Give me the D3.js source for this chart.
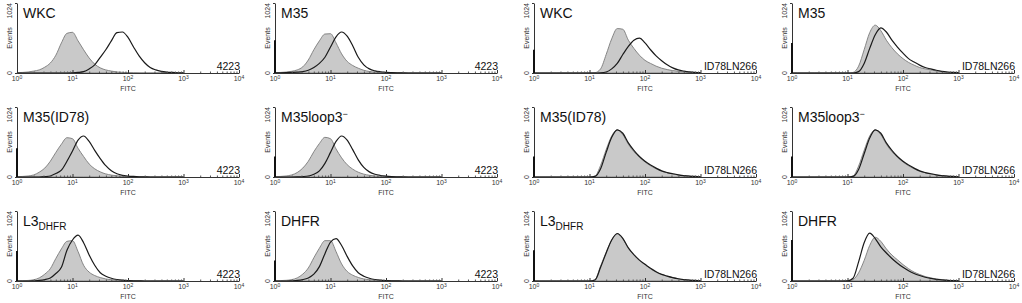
<!DOCTYPE html>
<html>
<head>
<meta charset="utf-8">
<script src="https://cdn.jsdelivr.net/npm/d3@7"></script>
<style>
  body { margin: 0; background: #fff; }
  svg { display: block; font-family: "Liberation Sans", Arial, sans-serif; }
</style>
</head>
<body>
<svg id="chart" width="1022" height="303"></svg>
<script>
// panel order: row by row, left to right
const titleMain = ["WKC", "M35", "WKC", "M35",
                   "M35(ID78)", "M35loop3", "M35(ID78)", "M35loop3",
                   "L3", "DHFR", "L3", "DHFR"];
const titleSup = ["", "", "", "", "", "\u2212", "", "\u2212", "", "", "", ""];
const titleSub = ["", "", "", "", "", "", "", "", "DHFR", "", "DHFR", ""];
const cellLine = ["4223", "4223", "ID78LN266", "ID78LN266",
                  "4223", "4223", "ID78LN266", "ID78LN266",
                  "4223", "4223", "ID78LN266", "ID78LN266"];

// FITC channel positions, log10 units (0.0 .. 3.0)
const logFITC = [0, 0.1, 0.2, 0.3, 0.4, 0.5, 0.6, 0.7, 0.8, 0.9, 1.0,
                 1.1, 1.2, 1.3, 1.4, 1.5, 1.6, 1.7, 1.8, 1.9, 2.0,
                 2.1, 2.2, 2.3, 2.4, 2.5, 2.6, 2.7, 2.8, 2.9, 3.0];
const decadeTicks = [0, 1, 2, 3, 4];
const eventTicks = [0, 1024];

// events per channel, control (grey filled) histograms
const controlCounts = [
  [5, 8, 15, 28, 45, 85, 146, 260, 440, 580, 595, 470, 340, 220, 130, 75, 45, 28, 15, 9, 5, 3, 1, 0, 0, 0, 0, 0, 0, 0, 0],
  [5, 8, 14, 25, 45, 90, 190, 340, 470, 570, 575, 440, 280, 170, 110, 70, 40, 22, 12, 7, 4, 2, 0, 0, 0, 0, 0, 0, 0, 0, 0],
  [0, 0, 0, 0, 0, 0, 0, 0, 0, 0, 0, 5, 60, 270, 500, 650, 640, 480, 360, 260, 185, 140, 100, 70, 50, 35, 25, 16, 10, 6, 3],
  [0, 0, 0, 0, 0, 0, 0, 0, 0, 0, 0, 8, 100, 340, 590, 700, 620, 480, 370, 280, 210, 155, 115, 80, 60, 45, 30, 20, 12, 8, 4],
  [5, 8, 15, 30, 70, 130, 230, 360, 480, 575, 560, 420, 300, 190, 120, 75, 45, 28, 18, 10, 6, 3, 1, 0, 0, 0, 0, 0, 0, 0, 0],
  [5, 8, 15, 30, 65, 130, 230, 370, 490, 580, 560, 410, 280, 180, 115, 70, 42, 25, 15, 9, 5, 2, 0, 0, 0, 0, 0, 0, 0, 0, 0],
  [0, 0, 0, 0, 0, 0, 0, 0, 0, 0, 0, 15, 170, 400, 600, 690, 620, 480, 370, 290, 220, 165, 120, 85, 62, 45, 30, 20, 12, 7, 4],
  [0, 0, 0, 0, 0, 0, 0, 0, 0, 0, 0, 15, 160, 390, 600, 690, 620, 480, 370, 290, 220, 165, 120, 85, 62, 45, 30, 20, 12, 7, 4],
  [3, 5, 8, 18, 45, 100, 180, 330, 470, 580, 590, 430, 230, 130, 80, 50, 30, 18, 10, 6, 3, 1, 0, 0, 0, 0, 0, 0, 0, 0, 0],
  [4, 6, 10, 20, 45, 100, 190, 340, 480, 590, 590, 430, 250, 140, 85, 52, 30, 18, 10, 6, 3, 1, 0, 0, 0, 0, 0, 0, 0, 0, 0],
  [0, 0, 0, 0, 0, 0, 0, 0, 0, 0, 0, 20, 220, 420, 600, 690, 620, 480, 380, 300, 240, 180, 130, 95, 70, 48, 32, 20, 12, 7, 4],
  [0, 0, 0, 0, 0, 0, 0, 0, 0, 0, 0, 20, 120, 300, 520, 640, 580, 470, 380, 310, 240, 180, 130, 95, 65, 45, 30, 20, 12, 7, 4]
];

// events per channel, stained (open black) histograms
const stainedCounts = [
  [0, 0, 0, 0, 0, 0, 0, 0, 0, 0, 2, 8, 20, 60, 120, 230, 340, 470, 590, 600, 520, 380, 250, 150, 80, 45, 25, 14, 8, 4, 2],
  [2, 3, 5, 8, 12, 20, 40, 80, 140, 230, 380, 530, 600, 540, 400, 230, 120, 60, 32, 18, 10, 6, 3, 1, 0, 0, 0, 0, 0, 0, 0],
  [0, 0, 0, 0, 0, 0, 0, 0, 0, 0, 0, 0, 3, 15, 60, 140, 270, 390, 480, 510, 440, 340, 250, 180, 120, 75, 45, 28, 16, 9, 5],
  [0, 0, 0, 0, 0, 0, 0, 0, 0, 0, 0, 0, 20, 140, 360, 560, 660, 600, 480, 380, 290, 210, 160, 115, 80, 60, 40, 25, 15, 9, 5],
  [0, 0, 0, 0, 0, 5, 15, 50, 100, 230, 380, 540, 600, 520, 390, 270, 165, 90, 48, 25, 14, 8, 4, 2, 0, 0, 0, 0, 0, 0, 0],
  [0, 0, 0, 0, 2, 6, 15, 40, 90, 200, 360, 520, 600, 540, 400, 250, 140, 75, 40, 22, 12, 6, 3, 1, 0, 0, 0, 0, 0, 0, 0],
  [0, 0, 0, 0, 0, 0, 0, 0, 0, 0, 0, 8, 120, 360, 580, 690, 640, 500, 390, 300, 230, 175, 130, 90, 65, 47, 32, 21, 13, 8, 4],
  [0, 0, 0, 0, 0, 0, 0, 0, 0, 0, 0, 8, 110, 340, 570, 690, 640, 500, 390, 300, 230, 175, 130, 90, 65, 47, 32, 21, 13, 8, 4],
  [0, 0, 0, 3, 8, 20, 45, 110, 200, 450, 600, 670, 560, 380, 230, 120, 70, 40, 22, 12, 7, 4, 2, 0, 0, 0, 0, 0, 0, 0, 0],
  [0, 0, 0, 3, 8, 20, 45, 100, 210, 400, 570, 620, 520, 360, 220, 120, 70, 40, 22, 12, 7, 4, 2, 0, 0, 0, 0, 0, 0, 0, 0],
  [0, 0, 0, 0, 0, 0, 0, 0, 0, 0, 0, 15, 200, 410, 600, 695, 625, 485, 385, 305, 245, 185, 135, 97, 72, 50, 33, 21, 13, 8, 4],
  [0, 0, 0, 0, 0, 0, 0, 0, 0, 0, 2, 40, 280, 560, 700, 620, 500, 410, 330, 260, 200, 150, 110, 80, 55, 38, 25, 16, 10, 6, 3]
];

// events piled in the first channel (drawn on the y axis)
const firstChannel = [0, 480, 340, 440, 420, 300, 300, 300, 440, 300, 450, 600];

const svg = d3.select("#chart");

const colLeft = [17, 275, 534, 792];
const rowBase = [73, 177, 281];
const plotW = 222;
const plotH = 70;

for (let i = 0; i < 12; i++) {
    const row = Math.floor(i / 4);
    const col = i % 4;
    const x0 = colLeft[col];
    const y0 = rowBase[row];

    const x = d3.scaleLog().domain([1, 1e4]).range([x0, x0 + plotW]);
    const y = d3.scaleLinear().domain([0, 1024]).range([y0, y0 - plotH]);

    const g = svg.append("g");

    const area = d3.area()
        .x(d => x(Math.pow(10, d[0])))
        .y0(y(0))
        .y1(d => y(d[1]))
        .curve(d3.curveMonotoneX);
    const line = d3.line()
        .x(d => x(Math.pow(10, d[0])))
        .y(d => y(d[1]))
        .curve(d3.curveMonotoneX);

    const ctrl = logFITC.map((l, k) => [l, controlCounts[i][k]]);
    const stain = logFITC.map((l, k) => [l, stainedCounts[i][k]]);

    g.append("path")
        .attr("d", area(ctrl))
        .attr("fill", "#c9c9c9")
        .attr("stroke", "#7a7a7a")
        .attr("stroke-width", 0.9);

    g.append("path")
        .attr("d", line(stain))
        .attr("fill", "none")
        .attr("stroke", "#1a1a1a")
        .attr("stroke-width", 1.2);

    // x axis with decade and minor ticks
    const minor = [];
    for (let d = 0; d < 4; d++) {
        for (let m = 2; m <= 9; m++) minor.push(m * Math.pow(10, d));
    }
    g.append("g")
        .attr("transform", `translate(0,${y0})`)
        .call(d3.axisBottom(x).tickValues(minor).tickSize(-1.5).tickFormat("").tickSizeOuter(0))
        .call(a => a.select(".domain").attr("stroke", "#333"))
        .call(a => a.selectAll(".tick line").attr("stroke", "#555"));
    g.append("g")
        .attr("transform", `translate(0,${y0})`)
        .call(d3.axisBottom(x).tickValues(decadeTicks.map(d => Math.pow(10, d))).tickSize(-3).tickFormat("").tickSizeOuter(0))
        .call(a => a.select(".domain").remove())
        .call(a => a.selectAll(".tick line").attr("stroke", "#333"));

    const lbl = g.selectAll(".dec")
        .data(decadeTicks)
        .enter()
        .append("text")
        .attr("x", d => x(Math.pow(10, d)))
        .attr("y", y0 + 8)
        .attr("text-anchor", "middle")
        .attr("font-size", 7)
        .attr("fill", "#333");
    lbl.append("tspan").text("10");
    lbl.append("tspan").attr("dy", -2.5).attr("font-size", 5).text(d => d);

    g.append("text")
        .attr("x", x0 + plotW / 2)
        .attr("y", y0 + 18)
        .attr("text-anchor", "middle")
        .attr("font-size", 7)
        .attr("fill", "#333")
        .text("FITC");

    // y axis
    g.append("g")
        .attr("transform", `translate(${x0},0)`)
        .call(d3.axisLeft(y).tickValues(eventTicks).tickSize(2).tickFormat("").tickSizeOuter(0))
        .call(a => a.select(".domain").attr("stroke", "#333"))
        .call(a => a.selectAll(".tick line").attr("stroke", "#333"));

    if (firstChannel[i] > 0) {
        g.append("line")
            .attr("x1", x0).attr("x2", x0)
            .attr("y1", y(0)).attr("y2", y(firstChannel[i]))
            .attr("stroke", "#111")
            .attr("stroke-width", 2);
    }

    g.append("text")
        .attr("transform", `translate(${x0 - 5},${y(0)}) rotate(-90)`)
        .attr("text-anchor", "middle")
        .attr("font-size", 7)
        .attr("fill", "#333")
        .text(eventTicks[0]);
    g.append("text")
        .attr("transform", `translate(${x0 - 5},${y(1024)}) rotate(-90)`)
        .attr("text-anchor", "end")
        .attr("font-size", 7)
        .attr("fill", "#333")
        .text(eventTicks[1]);
    g.append("text")
        .attr("transform", `translate(${x0 - 5},${y(512)}) rotate(-90)`)
        .attr("text-anchor", "middle")
        .attr("font-size", 7)
        .attr("fill", "#333")
        .text("Events");

    // panel title
    const t = g.append("text")
        .attr("x", x0 + 6)
        .attr("y", y0 - plotH + 15)
        .attr("font-size", 14)
        .attr("fill", "#111");
    t.append("tspan").text(titleMain[i]);
    if (titleSup[i]) t.append("tspan").attr("dy", -5).attr("font-size", 9).text(titleSup[i]);
    if (titleSub[i]) t.append("tspan").attr("dy", 4).attr("font-size", 10).text(titleSub[i]);

    g.append("text")
        .attr("x", x0 + plotW + 1)
        .attr("y", y0 - 3)
        .attr("text-anchor", "end")
        .attr("font-size", 10.5)
        .attr("fill", "#111")
        .text(cellLine[i]);
}
</script>
</body>
</html>
